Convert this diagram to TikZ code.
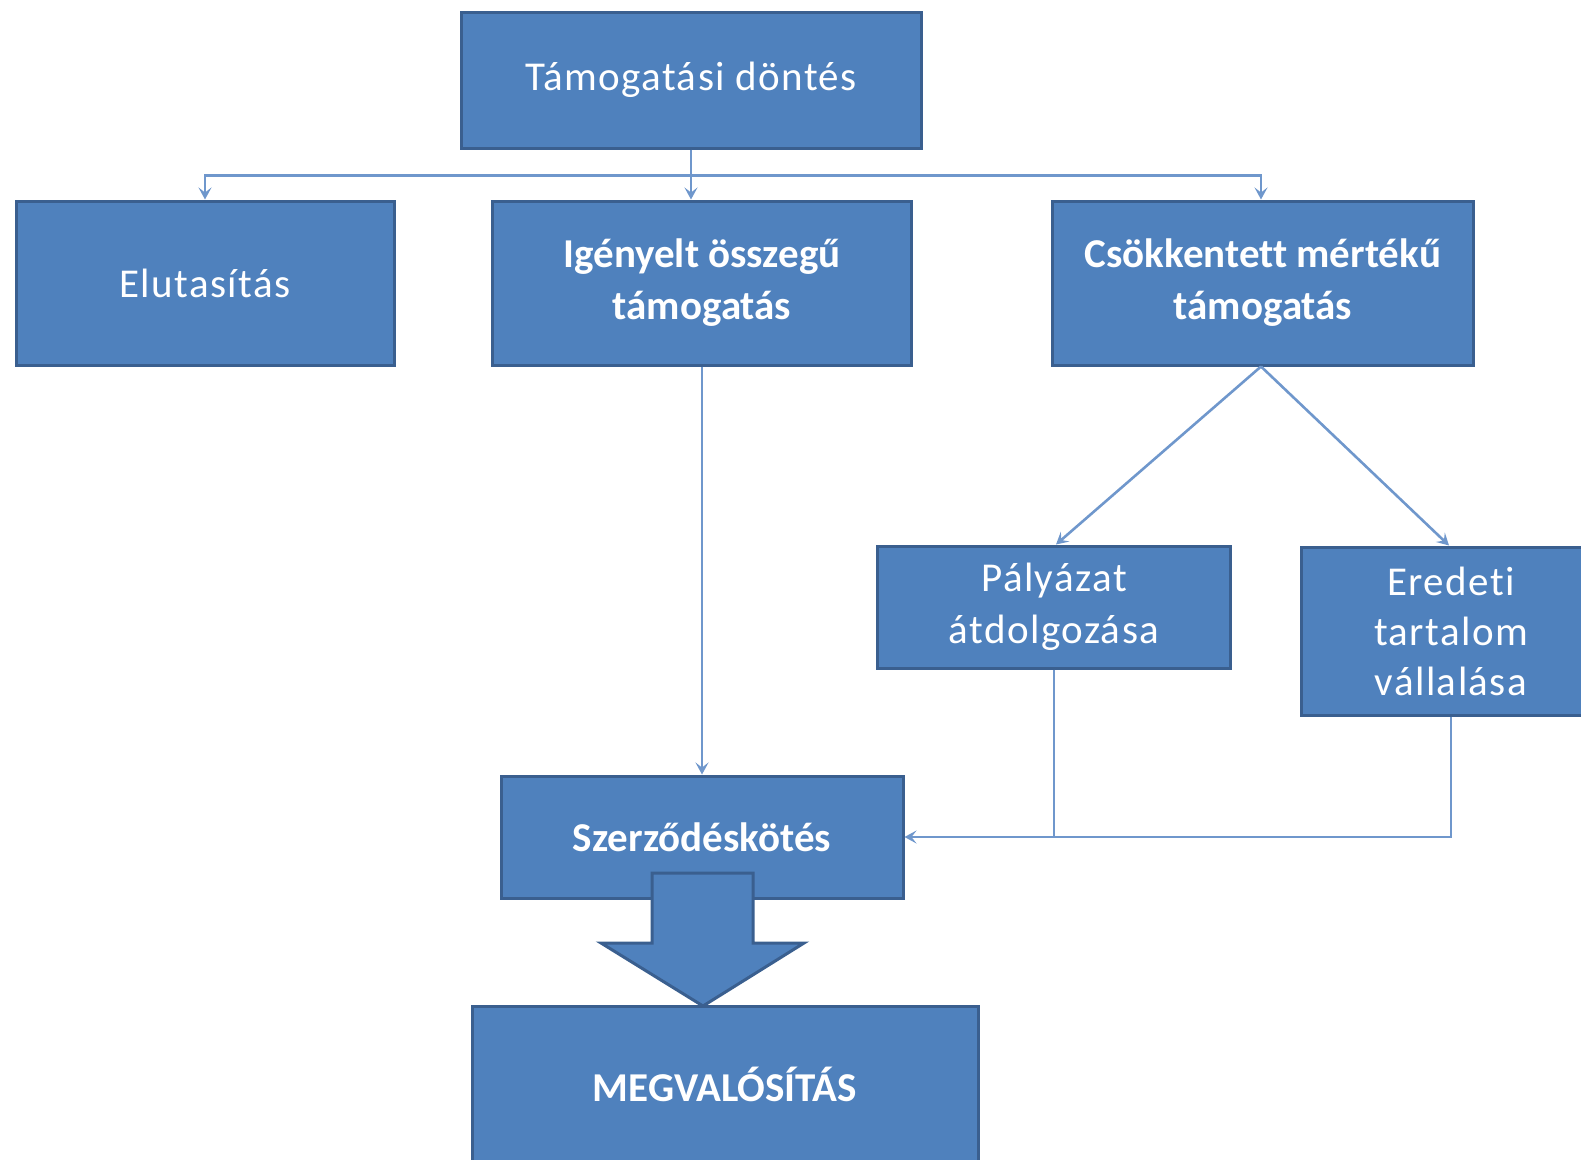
\documentclass[tikz,border=0pt]{standalone}
\usepackage{fontspec}
\setmainfont{Carlito}[Ligatures=NoCommon]
\newfontfamily\spacedfont[LetterSpace=3.5,Ligatures=NoCommon]{Carlito}
\usetikzlibrary{arrows.meta}
\definecolor{boxfill}{HTML}{4F81BD}
\definecolor{boxline}{HTML}{3A5F8F}
\definecolor{conncol}{HTML}{6F97CC}
\tikzset{
  box/.style={draw=boxline, line width=3pt, fill=boxfill, text=white, align=center, inner sep=0pt,
    font=\spacedfont\fontsize{41}{52}\selectfont},
  boldbox/.style={box, font=\fontsize{41}{52}\selectfont\bfseries},
  conn/.style={draw=conncol, line width=2.6pt},
  arr/.style={conn, -{Stealth[length=12pt,width=13pt,inset=5pt]}},
}
\begin{document}
\begin{tikzpicture}[x=1pt,y=-1pt]
\useasboundingbox (0,0) rectangle (1581,1159);
\node[box, minimum width=460, minimum height=136] (top) at (691,80) {Támogatási döntés};
\node[box, minimum width=378, minimum height=164] (elu) at (205,283) {Elutasítás};
\node[boldbox, minimum width=419, minimum height=164] (igeny) at (702,283) {Igényelt összegű\\támogatás};
\node[boldbox, minimum width=421, minimum height=164] (csok) at (1263,283) {Csökkentett mértékű\\támogatás};
\node[box, minimum width=353, minimum height=122] (pal) at (1054,607) {Pályázat\\átdolgozása};
\node[box, minimum width=300, minimum height=168, font=\spacedfont\fontsize{41}{50}\selectfont] (ered) at (1451,631) {Eredeti\\tartalom\\vállalása};
\node[boldbox, minimum width=402, minimum height=122] (szerz) at (702,837) {Szerződéskötés};
\node[boldbox, minimum width=506, minimum height=156] (megv) at (725,1084) {MEGVALÓSÍTÁS};
% block arrow
\filldraw[draw=boxline, line width=3pt, fill=boxfill, line join=miter]
  (652,873) -- (753,873) -- (753,943) -- (804,943) -- (703,1006) -- (601,943) -- (652,943) -- cycle;
% connectors
\coordinate (bus) at ([yshift=-26pt]top.south);
\draw[conn] (top.south) -- (bus);
\draw[arr] (bus) -| (elu.north);
\draw[arr] (bus) -- (bus |- igeny.north);
\draw[arr] (bus) -| ([xshift=-2pt]csok.north);
\draw[arr] (igeny.south) -- (szerz.north);
\draw[arr] ([xshift=-2pt]csok.south) -- ([xshift=2pt]pal.north);
\draw[arr] ([xshift=-2pt]csok.south) -- ([xshift=-2pt]ered.north);
\draw[conn] (pal.south) -- (pal.south |- szerz.east);
\draw[arr] (ered.south) |- (szerz.east);
\end{tikzpicture}
\end{document}
